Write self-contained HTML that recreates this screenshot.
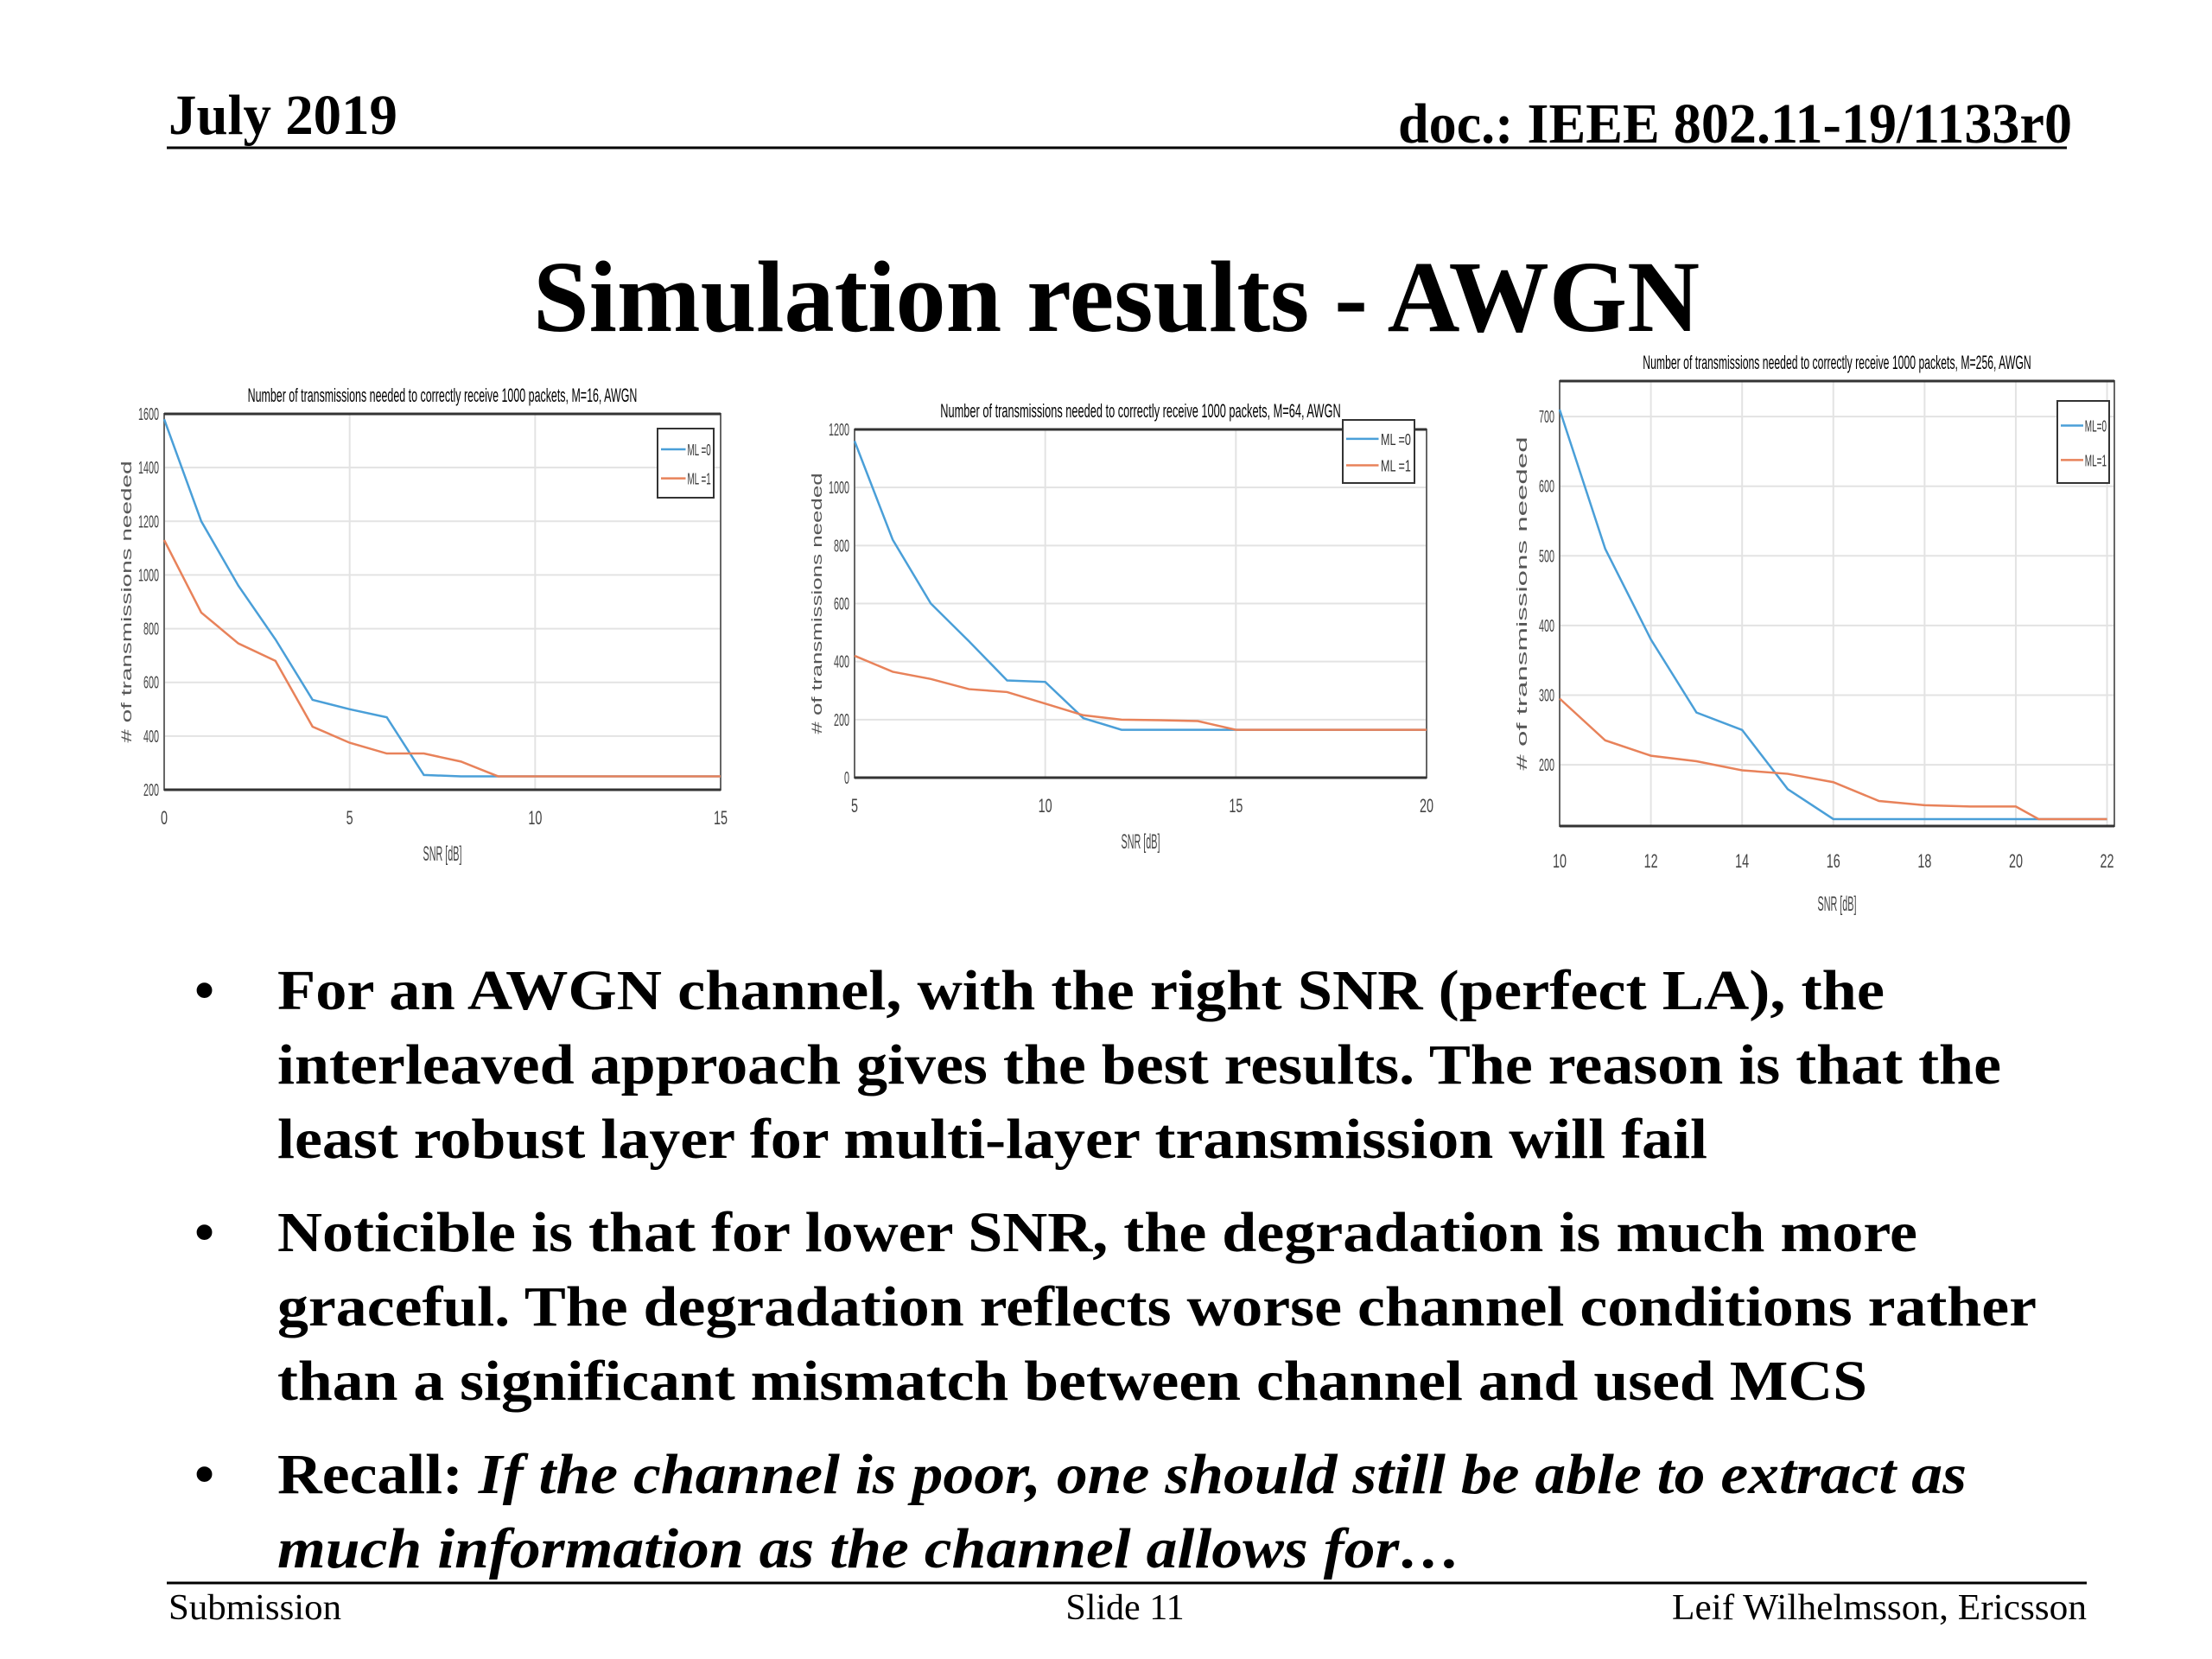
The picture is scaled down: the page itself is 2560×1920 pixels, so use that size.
<!DOCTYPE html>
<html><head><meta charset="utf-8"><style>
html,body{margin:0;padding:0;background:#fff;}
svg{display:block;}
.ser{font-family:"Liberation Serif",serif;}
.san{font-family:"Liberation Sans",sans-serif;}
</style></head><body>
<svg id="slide" width="2560" height="1920" viewBox="0 0 2560 1920" xmlns="http://www.w3.org/2000/svg">
<rect width="2560" height="1920" fill="#fff"/>
<text class="ser" x="195" y="155" font-size="66" font-weight="bold" textLength="265" lengthAdjust="spacingAndGlyphs">July 2019</text>
<text class="ser" x="2398" y="165" font-size="66" font-weight="bold" text-anchor="end" textLength="780" lengthAdjust="spacingAndGlyphs">doc.: IEEE 802.11-19/1133r0</text>
<line x1="193" y1="171" x2="2392" y2="171" stroke="#000" stroke-width="3"/>
<text class="ser" x="617" y="383" font-size="118" font-weight="bold" textLength="1350" lengthAdjust="spacingAndGlyphs">Simulation results - AWGN</text>
<g id="charts"></g>
<g class="ser" font-size="66" font-weight="bold">
<text x="225" y="1168">•</text>
<text x="321" y="1168" textLength="1860" lengthAdjust="spacingAndGlyphs">For an AWGN channel, with the right SNR (perfect LA), the</text>
<text x="321" y="1254" textLength="1995" lengthAdjust="spacingAndGlyphs">interleaved approach gives the best results. The reason is that the</text>
<text x="321" y="1340" textLength="1655" lengthAdjust="spacingAndGlyphs">least robust layer for multi-layer transmission will fail</text>
<text x="225" y="1448">•</text>
<text x="321" y="1448" textLength="1898" lengthAdjust="spacingAndGlyphs">Noticible is that for lower SNR, the degradation is much more</text>
<text x="321" y="1534" textLength="2036" lengthAdjust="spacingAndGlyphs">graceful. The degradation reflects worse channel conditions rather</text>
<text x="321" y="1620" textLength="1840" lengthAdjust="spacingAndGlyphs">than a significant mismatch between channel and used MCS</text>
<text x="225" y="1728">•</text>
<text x="321" y="1728" textLength="1955" lengthAdjust="spacingAndGlyphs">Recall: <tspan font-style="italic">If the channel is poor, one should still be able to extract as</tspan></text>
<text x="321" y="1814" font-style="italic" textLength="1370" lengthAdjust="spacingAndGlyphs">much information as the channel allows for…</text>
</g>
<line x1="193" y1="1832" x2="2415" y2="1832" stroke="#000" stroke-width="3"/>
<text class="ser" x="195" y="1874" font-size="42" textLength="200" lengthAdjust="spacingAndGlyphs">Submission</text>
<text class="ser" x="1302" y="1874" font-size="42" text-anchor="middle">Slide 11</text>
<text class="ser" x="2415" y="1874" font-size="42" text-anchor="end" textLength="480" lengthAdjust="spacingAndGlyphs">Leif Wilhelmsson, Ericsson</text>
</svg>
<script>
// Chart 1: M=16
const c1X = [0,1,2,3,4,5,6,7,8,9,10,11,12,13,14,15];
const c1ML0 = [1580,1200,960,760,535,500,470,255,250,250,250,250,250,250,250,250];
const c1ML1 = [1130,860,745,680,435,375,335,335,305,250,250,250,250,250,250,250];
const c1XTicks = [0,5,10,15];
const c1YTicks = [200,400,600,800,1000,1200,1400,1600];
// Chart 2: M=64
const c2X = [5,6,7,8,9,10,11,12,13,14,15,16,17,18,19,20];
const c2ML0 = [1160,820,600,470,335,330,205,165,165,165,165,165,165,165,165,165];
const c2ML1 = [420,365,340,305,295,255,215,200,198,195,165,165,165,165,165,165];
const c2XTicks = [5,10,15,20];
const c2YTicks = [0,200,400,600,800,1000,1200];
// Chart 3: M=256
const c3X = [10,11,12,13,14,15,16,17,18,19,20,20.5,21,22];
const c3ML0 = [710,510,380,275,250,165,122,122,122,122,122,122,122,122];
const c3ML1 = [295,235,213,205,192,187,175,148,142,140,140,122,122,122];
const c3XTicks = [10,12,14,16,18,20,22];
const c3YTicks = [200,300,400,500,600,700];

const NS = 'http://www.w3.org/2000/svg';
const root = document.getElementById('charts');
function mk(tag, attrs, parent){const e=document.createElementNS(NS,tag);for(const k in attrs)e.setAttribute(k,attrs[k]);parent.appendChild(e);return e;}

function drawChart(id, box, xr, yr, xs, s0, s1, xt, yt, title, leg, legLabels, off){
  const g = mk('g',{},root);
  
  
  const X = v => box.l + (v - xr[0])/(xr[1]-xr[0])*(box.r-box.l);
  const Y = v => box.b - (v - yr[0])/(yr[1]-yr[0])*(box.b-box.t);
  const bg = mk('rect',{x:box.l,y:box.t,width:box.r-box.l,height:box.b-box.t,fill:'#fff'},g);
  
  
  xt.forEach(v=>{
    const gl = mk('line',{x1:X(v),x2:X(v),y1:box.t,y2:box.b,stroke:'#e3e3e3','stroke-width':2},g);
    
    
    const t = mk('text',{x:X(v),y:box.b+off.xt,'font-size':22,'text-anchor':'middle',fill:'#444','class':'san',textLength:String(v).length*8,lengthAdjust:'spacingAndGlyphs'},g);
    
    
    t.textContent = v;
  });
  yt.forEach(v=>{
    const gl = mk('line',{x1:box.l,x2:box.r,y1:Y(v),y2:Y(v),stroke:'#e3e3e3','stroke-width':2},g);
    
    
    const t = mk('text',{x:box.l-6,y:Y(v)+7,'font-size':20,'text-anchor':'end',fill:'#444','class':'san',textLength:String(v).length*6,lengthAdjust:'spacingAndGlyphs'},g);
    
    
    t.textContent = v;
  });
  const fr = mk('rect',{x:box.l,y:box.t,width:box.r-box.l,height:box.b-box.t,fill:'none',stroke:'#666','stroke-width':2},g);
  
  
  mk('line',{x1:box.l,x2:box.r,y1:box.t,y2:box.t,stroke:'#333','stroke-width':3},g);
  mk('line',{x1:box.l,x2:box.r,y1:box.b,y2:box.b,stroke:'#333','stroke-width':3},g);
  [[s0,'#4a9fd8','line-ml0'],[s1,'#e8825a','line-ml1']].forEach(([s,c,n])=>{
    const p = mk('polyline',{points:xs.map((x,i)=>X(x)+','+Y(s[i])).join(' '),fill:'none',stroke:c,'stroke-width':2.5},g);
    
    
  });
  const tt = mk('text',{x:(box.l+box.r)/2,y:box.t-14,'font-size':22,'text-anchor':'middle','class':'san',textLength:(box.r-box.l)*0.7,lengthAdjust:'spacingAndGlyphs'},g);
  
  
  tt.textContent = title;
  const xl = mk('text',{x:(box.l+box.r)/2,y:box.b+off.xl,'font-size':24,'text-anchor':'middle',fill:'#444','class':'san',textLength:45,lengthAdjust:'spacingAndGlyphs'},g);
  
  
  xl.textContent = 'SNR [dB]';
  const cy=(box.t+box.b)/2, cx=box.l-38;
  const yl = mk('text',{x:cx,y:cy,'font-size':17,'text-anchor':'middle',fill:'#555','class':'san',transform:'rotate(-90 '+cx+' '+cy+')',textLength:(box.b-box.t)*0.75,lengthAdjust:'spacingAndGlyphs'},g);
  
  
  yl.textContent = '# of transmissions needed';
  const lg = mk('g',{},g);
  
  
  mk('rect',{x:leg.x,y:leg.y,width:leg.w,height:leg.h,fill:'#fff',stroke:'#333','stroke-width':2},lg);
  [['#4a9fd8',legLabels[0],0.3],['#e8825a',legLabels[1],0.72]].forEach(([c,l,f])=>{
    const yy = leg.y+leg.h*f;
    mk('line',{x1:leg.x+4,x2:leg.x+leg.w*0.5,y1:yy,y2:yy,stroke:c,'stroke-width':2.5},lg);
    const t = mk('text',{x:leg.x+leg.w*0.53,y:yy+7,'font-size':18,'class':'san',fill:'#333',textLength:leg.w*0.42,lengthAdjust:'spacingAndGlyphs'},lg);
    
    
    t.textContent = l;
  });
}
drawChart('chart-m16',{l:190,r:834,t:479,b:914},[0,15],[200,1600],c1X,c1ML0,c1ML1,c1XTicks,c1YTicks,
 'Number of transmissions needed to correctly receive 1000 packets, M=16, AWGN',{x:761,y:496,w:65,h:80},['ML =0','ML =1'],{xt:40,xl:82});
drawChart('chart-m64',{l:989,r:1651,t:497,b:900},[5,20],[0,1200],c2X,c2ML0,c2ML1,c2XTicks,c2YTicks,
 'Number of transmissions needed to correctly receive 1000 packets, M=64, AWGN',{x:1554,y:486,w:83,h:73},['ML =0','ML =1'],{xt:40,xl:82});
drawChart('chart-m256',{l:1805,r:2447,t:441,b:956},[10,22.16],[112,751],c3X,c3ML0,c3ML1,c3XTicks,c3YTicks,
 'Number of transmissions needed to correctly receive 1000 packets, M=256, AWGN',{x:2381,y:464,w:60,h:95},['ML=0','ML=1'],{xt:48,xl:98});
</script>
</body></html>
